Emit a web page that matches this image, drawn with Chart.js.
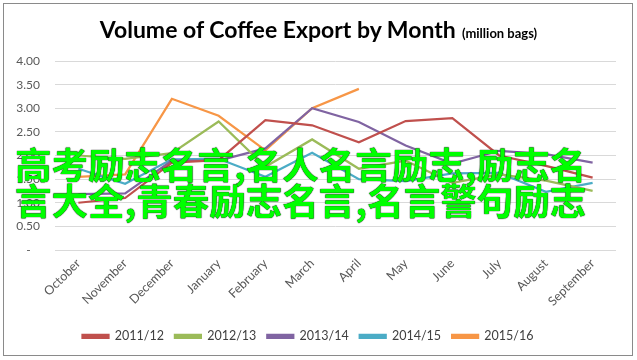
<!DOCTYPE html>
<html><head><meta charset="utf-8">
<script src="https://cdn.jsdelivr.net/npm/chart.js@4"></script>
<style>
html,body{margin:0;padding:0;background:#fff;}
#wrap{position:relative;width:637px;height:360px;overflow:hidden;}
#frame{position:absolute;left:3px;top:3px;width:628px;height:351px;border:1px solid #8a8a8a;box-sizing:content-box;pointer-events:none;}
#title{position:absolute;left:0;top:15px;width:637px;text-align:center;font-family:Lato,"Open Sans",sans-serif;color:#000;white-space:nowrap;}
#title .main{font-size:23px;font-weight:700;}
#title .sub{font-size:13px;font-weight:700;margin-left:2px;}
#wm{position:absolute;left:15px;top:146px;font-family:"Noto Sans CJK SC",sans-serif;font-weight:700;font-size:36.5px;line-height:36px;color:#00ff00;white-space:nowrap;text-shadow:0 0 1px #222,0 0 1px #222;pointer-events:none;}
canvas{position:absolute;left:0;top:0;}
</style></head>
<body>
<div id="wrap">
<canvas id="c" width="637" height="360"></canvas>
<div id="title"><span class="main">Volume of Coffee Export by Month</span> <span class="sub">(million bags)</span></div>
<div id="wm">高考励志名言,名人名言励志,励志名<br>言大全,青春励志名言,名言警句励志</div>
<div id="frame"></div>
</div>
<script>
const months = ["October","November","December","January","February","March","April","May","June","July","August","September"];
const s2011 = [1.00,1.10,1.85,1.90,2.75,2.64,2.28,2.73,2.79,2.00,1.78,1.53];
const s2012 = [2.00,1.93,2.05,2.72,1.76,2.34,1.72,1.89,1.42,1.60,1.47,1.25];
const s2013 = [1.18,1.20,1.89,1.89,2.15,3.00,2.71,2.21,1.83,2.10,2.03,1.85];
const s2014 = [1.72,1.40,1.92,1.93,1.55,2.06,1.50,1.46,1.62,1.63,1.23,1.42];
const s2015 = [1.55,1.60,3.20,2.84,2.11,3.00,3.41,null,null,null,null,null];
const seriesNames = ["2011/12","2012/13","2013/14","2014/15","2015/16"];
const yTicks = [0,0.5,1,1.5,2,2.5,3,3.5,4];

const colors = ["#C0504D","#9BBB59","#8064A2","#4BACC6","#F79646"];
const data = [s2011,s2012,s2013,s2014,s2015];

new Chart(document.getElementById('c'), {
  type: 'line',
  data: {
    labels: months,
    datasets: data.map((d,i)=>({
      label: seriesNames[i],
      data: d,
      borderColor: colors[i],
      backgroundColor: colors[i],
      borderWidth: 2.25,
      pointRadius: 0,
      tension: 0,
      spanGaps: false
    }))
  },
  options: {
    responsive: false,
    animation: false,
    devicePixelRatio: 1,
    layout: { padding: { left: 0, right: 21, top: 61, bottom: 7.5 } },
    plugins: {
      title: { display: false },
      tooltip: { enabled: false },
      legend: {
        position: 'bottom',
        labels: {
          boxWidth: 26, boxHeight: 3, padding: 11,
          color: '#404040',
          font: { family: 'Lato', size: 12.5 }
        }
      }
    },
    scales: {
      x: {
        offset: true,
        grid: { display: false, drawTicks: false },
        border: { display: false },
        ticks: {
          minRotation: 45, maxRotation: 45, padding: 6,
          color: '#595959', font: { family: 'Lato', size: 12.5 }
        },
        afterFit: s => { s.height = 69; }
      },
      y: {
        min: 0, max: 4,
        afterBuildTicks: s => { s.ticks = yTicks.map(v=>({value:v})); },
        grid: { color: '#d9d9d9', lineWidth: 1, drawTicks: false },
        border: { display: false },
        ticks: {
          padding: 15, color: '#595959', font: { family: 'Lato', size: 12 },
          callback: v => v === 0 ? '-   ' : v.toFixed(2)
        },
        afterFit: s => { s.width = 55; }
      }
    }
  }
});
</script>
</body></html>
